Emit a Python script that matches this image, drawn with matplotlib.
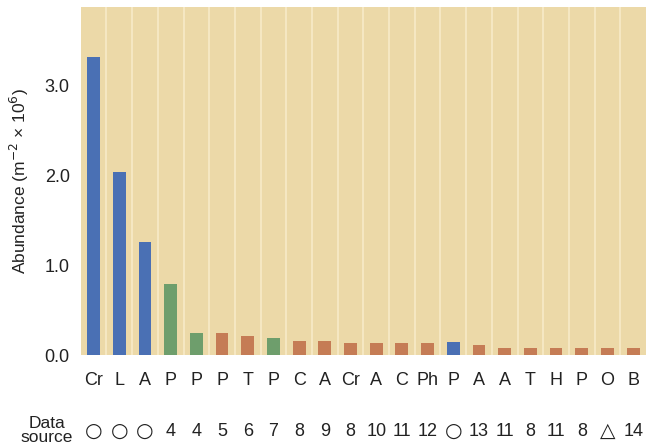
import numpy as np
import matplotlib.pyplot as plt

plt.rcParams['font.family'] = ['Liberation Sans', 'DejaVu Sans']

# taxa labels along the x axis
taxa = ['Cr', 'L', 'A', 'P', 'P', 'P', 'T', 'P', 'C', 'A', 'Cr',
        'A', 'C', 'Ph', 'P', 'A', 'A', 'T', 'H', 'P', 'O', 'B']
# abundance (m^-2 x 10^6)
abundance = [3.31, 2.04, 1.26, 0.79, 0.24, 0.24, 0.21, 0.19, 0.16, 0.16, 0.13,
             0.13, 0.13, 0.13, 0.14, 0.11, 0.08, 0.08, 0.08, 0.08, 0.08, 0.08]
# colour group of each bar
group = ['b', 'b', 'b', 'g', 'g', 'o', 'o', 'g', 'o', 'o', 'o',
         'o', 'o', 'o', 'b', 'o', 'o', 'o', 'o', 'o', 'o', 'o']
# data source row
source = ['\u25cb', '\u25cb', '\u25cb', '4', '4', '5', '6', '7', '8', '9', '8',
          '10', '11', '12', '\u25cb', '13', '11', '8', '11', '8', '\u25b3', '14']

colors = {'b': '#4a70b4', 'g': '#6e9e6c', 'o': '#c57c55'}
symbols = ('\u25cb', '\u25b3')

fig = plt.figure(figsize=(6.46, 4.46), dpi=100)
ax = fig.add_axes([0.125, 0.204, 0.875, 0.78])
ax.set_facecolor('#ecd9a8')

x = np.arange(len(taxa))
ax.bar(x, abundance, width=0.5, color=[colors[g] for g in group], zorder=3)

# light separators between the bars
for xv in x[:-1] + 0.5:
    ax.axvline(xv, color='#f8eccb', lw=1.1, zorder=1)

ax.set_xlim(-0.5, len(taxa) - 0.5)
ax.set_ylim(0, 3.87)
ax.set_yticks([0, 1, 2, 3])
ax.set_yticklabels(['0.0', '1.0', '2.0', '3.0'], fontsize=13, color='#222222')
ax.set_xticks(x)
ax.set_xticklabels(taxa, fontsize=13, color='#222222')
ax.tick_params(length=0, pad=8)
ax.tick_params(axis='x', pad=12)
for s in ax.spines.values():
    s.set_visible(False)

ax.set_ylabel('Abundance (m$^{-2}$ \u00d7 10$^{6}$)', fontsize=12.5,
              color='#222222', labelpad=10)

# data source row below the axis
trans = ax.get_xaxis_transform()
for xi, s in zip(x, source):
    if s in symbols:
        ax.text(xi, -0.219, s, transform=trans, ha='center', va='center',
                fontsize=14.5, color='#222222', family=['DejaVu Sans'])
    else:
        ax.text(xi, -0.221, s, transform=trans, ha='center', va='center',
                fontsize=13, color='#222222')
fig.text(0.073, 0.035, 'Data\nsource', ha='center', va='center',
         fontsize=12.5, linespacing=0.92, color='#222222')

fig.savefig('out.png', dpi=100)
